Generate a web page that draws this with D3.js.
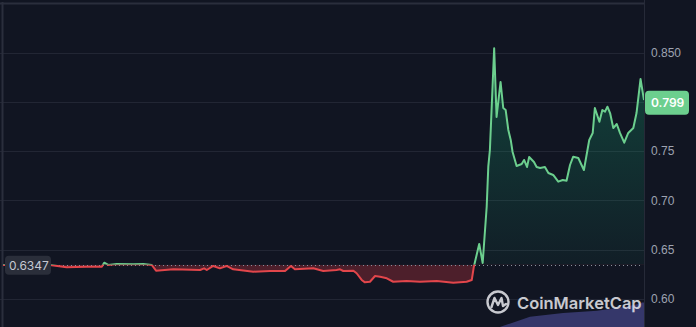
<!DOCTYPE html>
<html lang="en">
<head>
  <meta charset="utf-8">
  <title>Price chart</title>
  <script src="https://d3js.org/d3.v7.min.js"></script>
  <style>
    html, body { margin:0; padding:0; background:#111522; }
    svg { display:block; font-family: Inter, "Noto Sans", sans-serif; }
    .axis .domain { display:none; }
    .axis line { display:none; }
    .axis text { fill:#9ea3b1; font-size:12px; }
  </style>
</head>
<body>
<script>
// hours since the start of the 24h window, and price in USD
var hours = [0, 1.76, 2.38, 3.13, 3.70, 3.79, 3.94, 4.26, 4.88, 5.25, 5.57, 5.73, 6.38, 7.38, 7.53, 7.63, 7.87, 8.12, 8.37, 8.62,
  9.37, 10.00, 10.56, 10.78, 10.93, 11.62, 11.99, 12.49, 12.62, 12.74, 13.12, 13.24, 13.43, 13.55, 13.74, 13.93, 14.12, 14.37, 14.61, 15.11,
  15.61, 16.24, 16.86, 17.36, 17.55, 17.63, 17.83, 17.96, 18.11, 18.17, 18.23, 18.39, 18.48, 18.63, 18.73, 18.82, 18.92, 19.01, 19.08, 19.23,
  19.42, 19.51, 19.62, 19.70, 19.88, 19.98, 20.11, 20.29, 20.42, 20.60, 20.79, 20.96, 21.10, 21.23, 21.35, 21.54, 21.75, 21.95, 22.08, 22.16,
  22.33, 22.44, 22.54, 22.63, 22.73, 22.85, 22.98, 23.10, 23.26, 23.41, 23.60, 23.72, 23.87, 24.00];
var prices = [0.6345, 0.6345, 0.6322, 0.6328, 0.6328, 0.6368, 0.6345, 0.6355, 0.6352, 0.6355, 0.6345, 0.6287, 0.6301, 0.6294, 0.6311, 0.6294, 0.6335, 0.6311, 0.6335, 0.6301,
  0.6277, 0.6284, 0.6284, 0.6335, 0.6301, 0.6311, 0.6284, 0.6294, 0.6301, 0.6284, 0.6287, 0.6261, 0.6193, 0.6169, 0.6175, 0.6233, 0.6226, 0.6210, 0.6175, 0.6183,
  0.6175, 0.6183, 0.6165, 0.6175, 0.6193, 0.6328, 0.6558, 0.6365, 0.6936, 0.7342, 0.7511, 0.8543, 0.7846, 0.8201, 0.7937, 0.7917, 0.7714, 0.7613, 0.7491, 0.7349,
  0.7369, 0.7410, 0.7339, 0.7440, 0.7389, 0.7339, 0.7329, 0.7339, 0.7278, 0.7258, 0.7190, 0.7207, 0.7200, 0.7359, 0.7443, 0.7430, 0.7308, 0.7613, 0.7684, 0.7937,
  0.7798, 0.7917, 0.7900, 0.7950, 0.7886, 0.7734, 0.7775, 0.7684, 0.7585, 0.7684, 0.7734, 0.7886, 0.8231, 0.8018];

// volume (relative) for the bottom band
var volHours = [0, 18.6, 19.0, 19.73, 20.97, 22.24, 23.36, 23.77, 23.88, 23.92, 24.0];
var volValues = [0, 0, 0.12, 0.34, 0.47, 0.54, 0.68, 0.77, 0.78, 0.82, 0.82];

var openPrice = 0.6347;
var lastPrice = 0.799;
var gridValues = [0.60, 0.65, 0.70, 0.75, 0.80, 0.85, 0.90];
var tickValues = [0.60, 0.65, 0.70, 0.75, 0.85];
var tickLabels = ['0.60', '0.65', '0.70', '0.75', '0.850'];

var width = 696, height = 327;
var plotLeft = 3, plotRight = 644;

var svg = d3.select('body').append('svg')
  .attr('width', width)
  .attr('height', height);

var x = d3.scaleLinear().domain([0, 24]).range([plotLeft, plotRight]);
var y = d3.scaleLinear().domain([0.6, 0.9]).range([299, 3.2]);
var yVol = d3.scaleLinear().domain([0, 1]).range([height, 297]);

var data = hours.map(function(h, i) { return {t:h, p:prices[i]}; });
var vol = volHours.map(function(h, i) { return {t:h, v:volValues[i]}; });

var defs = svg.append('defs');
var grad = defs.append('linearGradient').attr('id', 'greenFill')
  .attr('gradientUnits', 'userSpaceOnUse')
  .attr('x1', 0).attr('x2', 0).attr('y1', y(0.85)).attr('y2', y(openPrice));
grad.append('stop').attr('offset', 0).attr('stop-color', '#16c784').attr('stop-opacity', 0.26);
grad.append('stop').attr('offset', 1).attr('stop-color', '#16c784').attr('stop-opacity', 0.05);

defs.append('clipPath').attr('id', 'above')
  .append('rect').attr('x', 0).attr('y', 0).attr('width', plotRight).attr('height', y(openPrice));
defs.append('clipPath').attr('id', 'below')
  .append('rect').attr('x', 0).attr('y', y(openPrice)).attr('width', plotRight).attr('height', height);

// grid
svg.selectAll('.grid')
  .data(gridValues)
  .enter().append('line')
  .attr('class', 'grid')
  .attr('x1', 0).attr('x2', plotRight)
  .attr('y1', function(d){ return Math.round(y(d)) + 0.5; })
  .attr('y2', function(d){ return Math.round(y(d)) + 0.5; })
  .attr('stroke', function(d){ return d === 0.90 ? '#2a2e3c' : '#222634'; })
  .attr('stroke-width', function(d){ return d === 0.90 ? 2 : 1; });

// volume band
svg.append('path')
  .datum(vol)
  .attr('fill', '#35376a')
  .attr('d', d3.area().x(function(d){ return x(d.t); }).y0(height).y1(function(d){ return yVol(d.v); }));

svg.append('line')
  .attr('x1', 2.5).attr('x2', 2.5).attr('y1', 2).attr('y2', height)
  .attr('stroke', '#2a2e3c').attr('stroke-width', 2);
svg.append('line')
  .attr('x1', plotRight + 0.5).attr('x2', plotRight + 0.5).attr('y1', 0).attr('y2', height)
  .attr('stroke', '#262a38');

// fills between price and open
var area = d3.area()
  .x(function(d){ return x(d.t); })
  .y0(y(openPrice))
  .y1(function(d){ return y(d.p); });

svg.append('path').datum(data)
  .attr('clip-path', 'url(#above)')
  .attr('fill', 'url(#greenFill)')
  .attr('d', area);
svg.append('path').datum(data)
  .attr('clip-path', 'url(#below)')
  .attr('fill', 'rgba(234,57,67,0.28)')
  .attr('d', area);

// open price dotted line
svg.append('line')
  .attr('x1', x(0)).attr('x2', plotRight - 3)
  .attr('y1', Math.round(y(openPrice)) + 0.5).attr('y2', Math.round(y(openPrice)) + 0.5)
  .attr('stroke', '#8a8f9c').attr('stroke-width', 1)
  .attr('stroke-dasharray', '1,3');

// price line
var line = d3.line()
  .x(function(d){ return x(d.t); })
  .y(function(d){ return y(d.p); });

svg.append('path').datum(data)
  .attr('clip-path', 'url(#above)')
  .attr('fill', 'none').attr('stroke', '#6ccf8e').attr('stroke-width', 2)
  .attr('stroke-linejoin', 'round')
  .attr('d', line);
svg.append('path').datum(data)
  .attr('clip-path', 'url(#below)')
  .attr('fill', 'none').attr('stroke', '#e2464b').attr('stroke-width', 2)
  .attr('stroke-linejoin', 'round')
  .attr('d', line);

// right axis
var yAxis = d3.axisRight(y)
  .tickValues(tickValues)
  .tickSize(0)
  .tickPadding(7)
  .tickFormat(function(d, i){ return tickLabels[i]; });
svg.append('g')
  .attr('class', 'axis')
  .attr('transform', 'translate(' + plotRight + ',0)')
  .call(yAxis);

// last price badge
var badge = svg.append('g').attr('transform', 'translate(' + (plotRight + 1) + ',' + (y(lastPrice) - 12) + ')');
badge.append('rect').attr('width', 44).attr('height', 24).attr('rx', 4).attr('fill', '#6ccf8e');
badge.append('text').attr('x', 6).attr('y', 16.5)
  .attr('fill', '#ffffff').attr('font-size', 12).attr('font-weight', 600)
  .text(d3.format('.3f')(lastPrice));

// open price label
var openTag = svg.append('g').attr('transform', 'translate(5,' + (y(openPrice) - 9) + ')');
openTag.append('rect').attr('width', 46).attr('height', 19).attr('rx', 4).attr('fill', '#2a2e3a');
openTag.append('text').attr('x', 4).attr('y', 14)
  .attr('fill', '#c4c8d2').attr('font-size', 12)
  .text(d3.format('.4f')(openPrice));

// watermark
var mark = svg.append('g').attr('transform', 'translate(498,302)').attr('opacity', 0.85);
mark.append('circle').attr('r', 10.5).attr('fill', 'none').attr('stroke', '#e8e9ee').attr('stroke-width', 2.4);
mark.append('path')
  .attr('d', 'M-6.5,5 L-3.5,-4 L0,3 L3.5,-4 L5,4 L8,2')
  .attr('fill', 'none').attr('stroke', '#e8e9ee').attr('stroke-width', 2.4)
  .attr('stroke-linejoin', 'round').attr('stroke-linecap', 'round');
mark.append('text').attr('x', 19).attr('y', 6.5)
  .attr('fill', '#e8e9ee').attr('font-size', 16.5).attr('font-weight', 600)
  .text('CoinMarketCap');
</script>
</body>
</html>
